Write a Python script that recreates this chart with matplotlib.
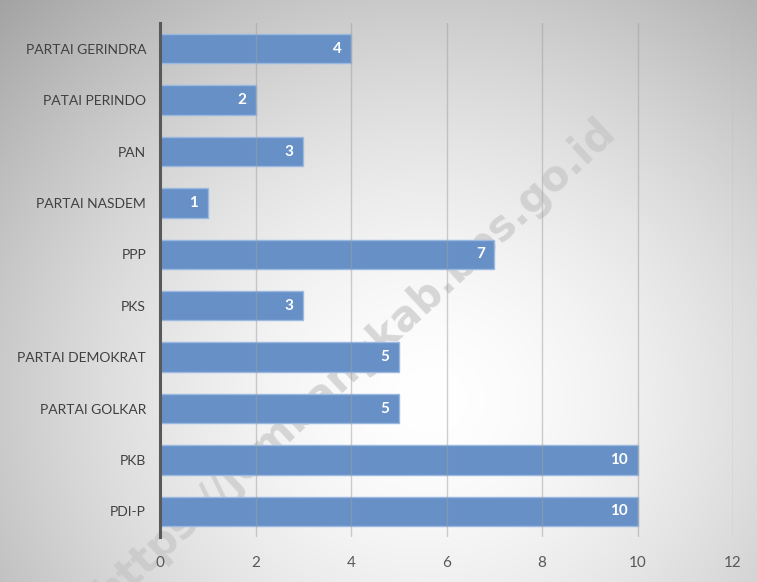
import numpy as np
import matplotlib
matplotlib.use("Agg")
import matplotlib.pyplot as plt

categories = ["PARTAI GERINDRA", "PATAI PERINDO", "PAN", "PARTAI NASDEM", "PPP",
              "PKS", "PARTAI DEMOKRAT", "PARTAI GOLKAR", "PKB", "PDI-P"]
values = [4, 2, 3, 1, 7, 3, 5, 5, 10, 10]
xticks = [0, 2, 4, 6, 8, 10, 12]

W, H = 757, 582
fig = plt.figure(figsize=(W / 100, H / 100), dpi=100)

# background radial gradient
bg = fig.add_axes([0, 0, 1, 1])
yy, xx = np.mgrid[0:H, 0:W]
cx, cy = 430, 400
r = np.sqrt(((xx - cx) / 520.0) ** 2 + ((yy - cy) / 480.0) ** 2)
val = 1.0 - 0.28 * np.clip(r, 0, 1.3) ** 1.6
val = np.clip(val, 0, 1)
img = np.dstack([val, val, val])
bg.imshow(img, extent=[0, W, H, 0], aspect="auto")
bg.set_xlim(0, W)
bg.set_ylim(H, 0)
bg.axis("off")
# watermark (behind the bars)
bg.text(355, 362, "https://jombangkab.bps.go.id",
        fontsize=30, fontweight="bold", color="#c4c4c4", alpha=0.65,
        rotation=43, ha="center", va="center", family="DejaVu Sans")

ax = fig.add_axes([160 / W, 45 / H, 573 / W, 514 / H])
ax.set_facecolor("none")
y = np.arange(len(categories))
ax.barh(y, values, height=0.57, color="#6690c6", edgecolor="#9bb8e0",
        linewidth=1.0, zorder=2)
ax.set_xlim(0, 12)
ax.set_ylim(len(categories) - 0.5, -0.5)
ax.set_xticks(xticks)
ax.set_yticks(y)
ax.set_yticklabels(categories)

for xt in xticks[1:]:
    ax.axvline(xt, color="#a0a0a0", alpha=0.5, linewidth=1.0, zorder=3)

for yi, v in zip(y, values):
    ax.text(v - 0.2, yi, str(v), ha="right", va="center", color="white",
            fontsize=11, fontweight="bold", family="Lato", zorder=4)

for s in ["top", "right", "bottom"]:
    ax.spines[s].set_visible(False)
ax.spines["left"].set_color("#595959")
ax.spines["left"].set_linewidth(2.2)
ax.tick_params(axis="y", length=0, pad=10, labelsize=10, labelcolor="#404040")
ax.tick_params(axis="x", length=0, pad=14, labelsize=11, labelcolor="#595959")
for lab in ax.get_xticklabels() + ax.get_yticklabels():
    lab.set_family("Lato")

fig.savefig("out.png", dpi=100)
